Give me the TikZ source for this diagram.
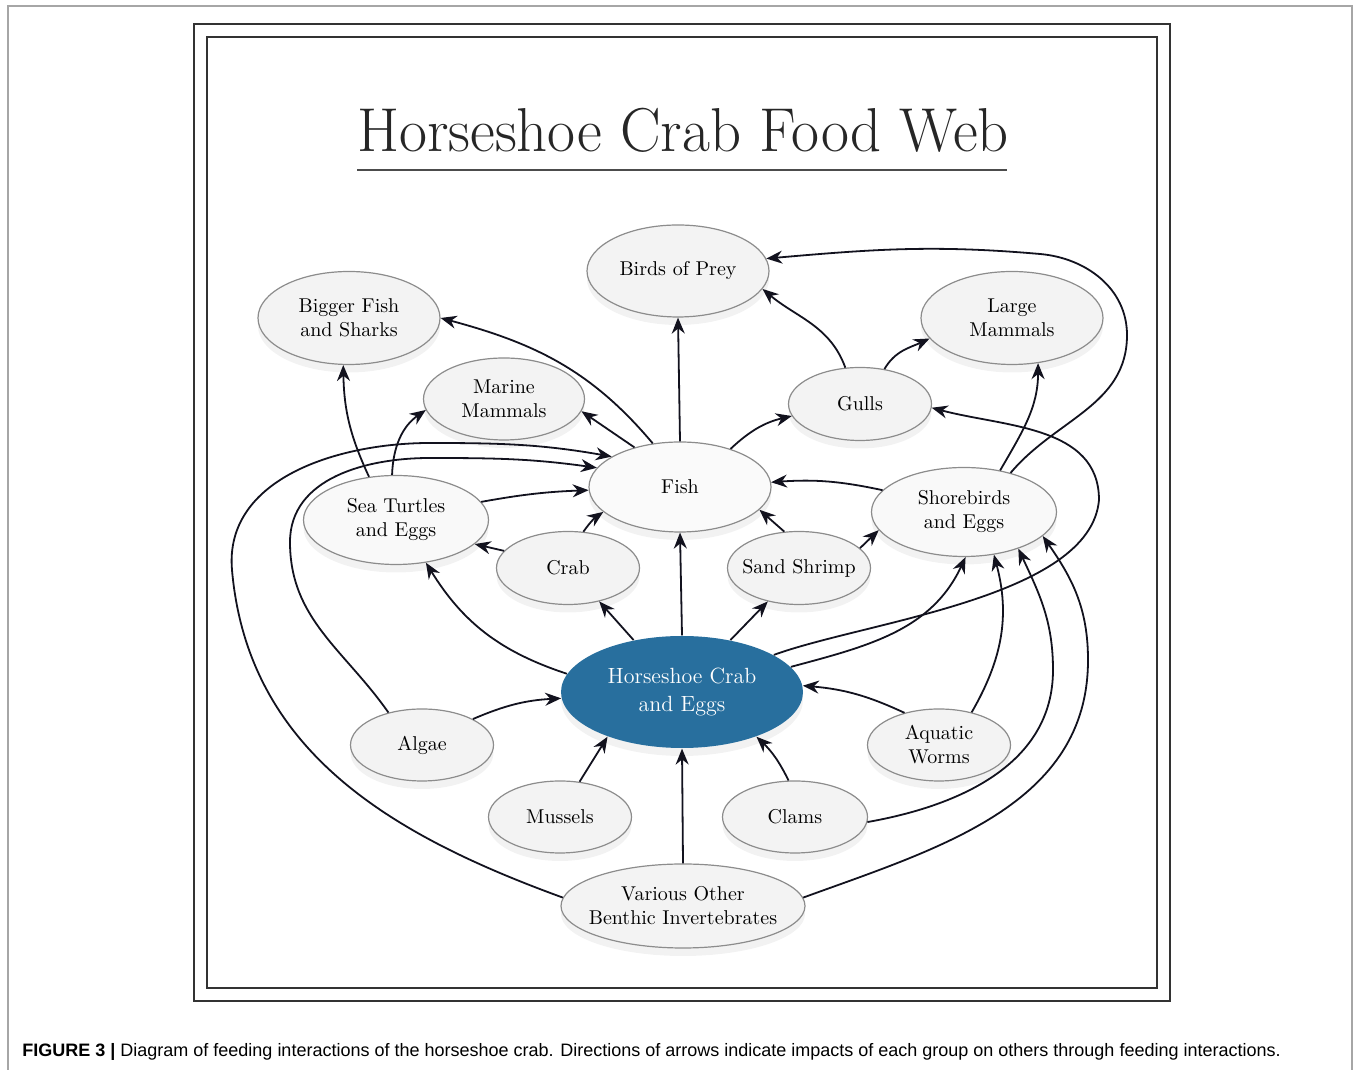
\documentclass[tikz,border=0pt]{standalone}
\usepackage{fontspec}
\newfontfamily\capfont{Liberation Sans}
\usepackage{tikz}
\usetikzlibrary{shapes.geometric,arrows.meta,shadows}
\definecolor{crabblue}{RGB}{40,111,158}
\definecolor{nodegray}{RGB}{243,243,243}
\definecolor{rimgray}{RGB}{140,140,140}
\definecolor{inkline}{RGB}{18,18,30}

\begin{document}
\begin{tikzpicture}[x=0.5pt, y=0.5pt,
  food/.style={ellipse, draw=rimgray, line width=0.6pt, fill=nodegray, inner sep=0pt, align=center,
    font=\fontsize{10}{12}\selectfont,
    drop shadow={shadow xshift=0pt, shadow yshift=-4pt, opacity=0.10}},
  wide/.style={minimum width=91pt, minimum height=45pt},
  small/.style={minimum width=71.5pt, minimum height=36.5pt},
  eat/.style={-{Stealth[length=8pt, width=6.5pt]}, line width=0.9pt, draw=inkline}]
\useasboundingbox (0,0) rectangle (1360,1070);

% figure box and double frame
\draw[gray!70, line width=0.6pt] (8,0) -- (8,1064) -- (1352,1064) -- (1352,0);
\draw[black!80, line width=1.1pt] (194,69) rectangle (1170,1046);
\draw[black!80, line width=1.1pt] (207,82) rectangle (1157,1033);

% title
\node[anchor=base, text=black!85] (title) at (683,918)
  {\fontsize{31}{36}\selectfont\scalebox{0.98}[1]{Horseshoe Crab Food Web}};
\draw[black!70, line width=0.8pt] (357,900) -- (1007,900);

% top level
\node[food, wide, minimum height=46pt] (birds) at (678,799) {Birds of Prey};
\node[food, wide, minimum height=46.5pt] (bigfish) at (349,752) {Bigger Fish\\and Sharks};
\node[food, wide, minimum height=46.5pt] (largemam) at (1012,752) {Large\\Mammals};
\node[food, minimum width=80.5pt, minimum height=41pt] (marine) at (504,671) {Marine\\Mammals};
\node[food, small] (gulls) at (860,666) {Gulls};

% middle
\node[food, wide, fill=white!60!nodegray] (fish) at (680,583) {Fish};
\node[food, minimum width=92.5pt, minimum height=44.5pt, fill=white!50!nodegray] (turtles) at (396,550) {Sea Turtles\\and Eggs};
\node[food, minimum width=92.5pt, minimum height=44.5pt, fill=white!50!nodegray] (shorebirds) at (964,558) {Shorebirds\\and Eggs};
\node[food, small] (crab) at (568,502) {Crab};
\node[food, small, inner xsep=-4pt] (shrimp) at (799,502) {Sand Shrimp};

% horseshoe crab
\node[food, draw=none, fill=crabblue, text=white, minimum width=121pt, minimum height=56pt,
  font=\fontsize{11}{14}\selectfont] (hcrab) at (682,378) {Horseshoe Crab\\and Eggs};

% bottom
\node[food, small, minimum height=36pt] (algae) at (422,325) {Algae};
\node[food, small, minimum height=36pt] (worms) at (939,325) {Aquatic\\Worms};
\node[food, small, minimum height=36pt] (mussels) at (560,253) {Mussels};
\node[food, small, minimum height=36pt, minimum width=72.5pt] (clams) at (795,253) {Clams};
\node[food, minimum width=122pt, minimum height=42pt, inner xsep=-10pt] (benthic) at (683,164) {Various Other\\Benthic Invertebrates};

% bends of the long loops
\coordinate (loopNE) at (1127,735);
\coordinate (loopN) at (1040,816);
\coordinate (eastbend) at (1099,570);
\coordinate (westin) at (290,528);
\coordinate (westintop) at (430,612);
\coordinate (westout) at (232,500);
\coordinate (westouttop) at (430,627);
\coordinate (clamsbend) at (1053,400);
\coordinate (benthicbend) at (1088,410);

% feeding links
\draw[eat] (fish.north) -- (birds.south);
\draw[eat] (fish.122) to[out=130, in=-15] (bigfish.east);
\draw[eat] (fish.139) -- (marine.-9);
\draw[eat] (fish.37) to[bend left=15] (gulls.190);
\draw[eat] (gulls.112) to[out=110, in=-40] (birds.-12);
\draw[eat] (gulls.55) to[out=60, in=205] (largemam.194);
\draw[eat] (shorebirds.49) to[out=60, in=-90] (largemam.-60);
\draw[eat] (shorebirds.40) to[out=50, in=-90] (loopNE) to[out=90, in=-5] (loopN) to[out=175, in=5] (birds.8);
\draw[eat] (shorebirds.165) to[bend right=8] (fish.3);
\draw[eat] (shrimp.112) -- (fish.-16);
\draw[eat] (shrimp.18) -- (shorebirds.192);
\draw[eat] (crab.67) to[bend left=10] (fish.198);
\draw[eat] (crab.165) -- (turtles.-17);
\draw[eat] (turtles.12) to[bend left=4] (fish.182);
\draw[eat] (turtles.122) to[bend left=12] (bigfish.-97);
\draw[eat] (turtles.95) to[out=88, in=215] (marine.188);
\draw[eat] (hcrab.171) to[bend left=20] (turtles.-55);
\draw[eat] (hcrab.133) -- (crab.-47);
\draw[eat] (hcrab.north) -- (fish.south);
\draw[eat] (hcrab.47) -- (shrimp.-133);
\draw[eat] (hcrab.13) to[out=15, in=-115] (shorebirds.-88);
\draw[eat] (hcrab.22) to[out=20, in=-95, looseness=0.7] (eastbend) to[out=90, in=-15] (gulls.-3);
\draw[eat] (algae.27) to[bend left=10] (hcrab.183);
\draw[eat] (algae.136) to[out=125, in=-90] (westin) to[out=90, in=180] (westintop) to[out=0, in=172] (fish.167);
\draw[eat] (benthic.176) to[out=160, in=-85] (westout) to[out=95, in=180] (westouttop) to[out=0, in=170] (fish.156);
\draw[eat] (mussels.61) -- (hcrab.211);
\draw[eat] (benthic.north) -- (hcrab.south);
\draw[eat] (clams.100) to[bend right=10] (hcrab.-31);
\draw[eat] (worms.137) to[bend right=10] (hcrab.3);
\draw[eat] (worms.45) to[out=60, in=-75] (shorebirds.-55);
\draw[eat] (clams.-4) to[out=10, in=-90] (clamsbend) to[out=90, in=-65] (shorebirds.-34);
\draw[eat] (benthic.4) to[out=20, in=-90] (benthicbend) to[out=90, in=-55] (shorebirds.-17);

% caption
\node[anchor=base west, inner sep=0pt] (caption) at (22,13)
  {\capfont\fontsize{9}{11}\selectfont\textbf{FIGURE 3 |} Diagram of feeding interactions of the horseshoe crab. Directions of arrows indicate impacts of each group on others through feeding interactions.};
\end{tikzpicture}
\end{document}
